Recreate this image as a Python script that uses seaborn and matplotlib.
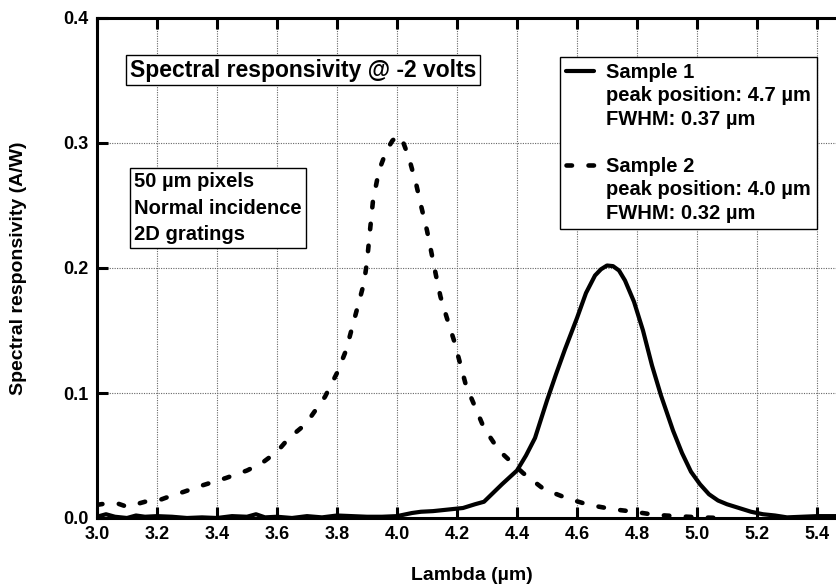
import numpy as np
import pandas as pd
import matplotlib
matplotlib.use("Agg")
import matplotlib.pyplot as plt
from matplotlib.ticker import MultipleLocator, FormatStrFormatter
from matplotlib.lines import Line2D
import seaborn as sns

# datos
lam_s1 = [3.00, 3.03, 3.06, 3.10, 3.13, 3.16, 3.20, 3.25, 3.30, 3.35, 3.40, 3.45,
          3.50, 3.53, 3.56, 3.60, 3.65, 3.70, 3.75, 3.80, 3.85, 3.90, 3.95, 4.00,
          4.05, 4.08, 4.12, 4.18, 4.22, 4.26, 4.29, 4.32, 4.35, 4.40, 4.43, 4.46,
          4.50, 4.53, 4.56, 4.60, 4.63, 4.66, 4.68, 4.70, 4.72, 4.74, 4.76, 4.79,
          4.82, 4.85, 4.88, 4.92, 4.95, 4.98, 5.01, 5.04, 5.07, 5.10, 5.14, 5.18,
          5.22, 5.26, 5.30, 5.35, 5.40, 5.47]
resp_s1 = [0.001, 0.003, 0.001, 0.000, 0.002, 0.001, 0.0015, 0.001, 0.000, 0.0005, 0.000, 0.0015,
           0.001, 0.003, 0.0005, 0.001, 0.000, 0.0015, 0.0005, 0.002, 0.0015, 0.001, 0.001, 0.0015,
           0.004, 0.005, 0.0055, 0.007, 0.008, 0.011, 0.013, 0.020, 0.027, 0.038, 0.050, 0.064,
           0.094, 0.115, 0.135, 0.160, 0.180, 0.194, 0.199, 0.202, 0.2015, 0.198, 0.190, 0.173,
           0.150, 0.122, 0.098, 0.070, 0.052, 0.037, 0.027, 0.019, 0.014, 0.011, 0.008, 0.005,
           0.003, 0.002, 0.0005, 0.001, 0.0015, 0.0015]

lam_s2 = [3.00, 3.04, 3.07, 3.10, 3.13, 3.16, 3.21, 3.25, 3.29, 3.35, 3.43, 3.50,
          3.55, 3.60, 3.64, 3.68, 3.71, 3.76, 3.80, 3.83, 3.85, 3.87, 3.89, 3.90,
          3.91, 3.92, 3.94, 3.965, 3.985, 4.005, 4.02, 4.04, 4.065, 4.08, 4.10, 4.115,
          4.13, 4.145, 4.165, 4.19, 4.21, 4.23, 4.26, 4.29, 4.34, 4.42, 4.49, 4.57,
          4.64, 4.72, 4.79, 4.86, 4.93, 5.01, 5.08, 5.10]
resp_s2 = [0.0105, 0.012, 0.0115, 0.009, 0.011, 0.013, 0.0145, 0.018, 0.021, 0.026, 0.032, 0.038,
           0.044, 0.053, 0.064, 0.072, 0.080, 0.097, 0.116, 0.134, 0.152, 0.170, 0.188, 0.205,
           0.230, 0.254, 0.278, 0.294, 0.302, 0.306, 0.301, 0.288, 0.266, 0.250, 0.230, 0.212,
           0.194, 0.177, 0.161, 0.142, 0.124, 0.106, 0.089, 0.072, 0.054, 0.036, 0.023, 0.0155,
           0.0105, 0.007, 0.005, 0.0025, 0.0015, 0.0005, 0.000, 0.000]

legend_labels = ["Sample 1", "peak position: 4.7 \u00b5m", "FWHM: 0.37 \u00b5m", "",
                 "Sample 2", "peak position: 4.0 \u00b5m", "FWHM: 0.32 \u00b5m"]
box_title = "Spectral responsivity @ -2 volts"
box_info = "50 \u00b5m pixels\nNormal incidence\n2D gratings"

sns.set_style("ticks")
plt.rcParams.update({
    'font.family': ['Liberation Sans', 'DejaVu Sans'],
    'font.weight': 'bold',
    'text.color': 'black',
    'axes.labelcolor': 'black',
    'axes.edgecolor': 'black',
    'xtick.color': 'black',
    'ytick.color': 'black',
    'xtick.direction': 'in',
    'ytick.direction': 'in',
    'xtick.top': True,
    'xtick.bottom': True,
    'ytick.left': True,
    'ytick.right': True,
    'xtick.major.size': 8,
    'ytick.major.size': 8,
    'xtick.major.width': 2.2,
    'ytick.major.width': 2.2,
    'axes.axisbelow': 'line',
})

fig = plt.figure(figsize=(8.37, 5.86), dpi=100)
W, H = 837, 586
ax = fig.add_axes([97 / W, (H - 518) / H, 750 / W, 500 / H])

df1 = pd.DataFrame({"lam": lam_s1, "resp": resp_s1})
df2 = pd.DataFrame({"lam": lam_s2, "resp": resp_s2})
sns.lineplot(data=df1, x="lam", y="resp", ax=ax, color="black", lw=3,
             solid_joinstyle="round")
sns.lineplot(data=df2, x="lam", y="resp", ax=ax, color="black", lw=3.3,
             linestyle=(0, (1.2, 3.6)), dash_capstyle="round")

ax.set_xlim(3.0, 5.5)
ax.set_ylim(0.0, 0.4)
ax.xaxis.set_major_locator(MultipleLocator(0.2))
ax.yaxis.set_major_locator(MultipleLocator(0.1))
ax.xaxis.set_major_formatter(FormatStrFormatter("%.1f"))
ax.yaxis.set_major_formatter(FormatStrFormatter("%.1f"))
ax.grid(True, color="#666666", lw=0.8, ls=(0, (1, 1.2)))
ax.tick_params(axis="both", which="major", direction="in", length=8, width=2.2,
               colors="black", labelsize=13, bottom=True, left=True, top=True, right=True)
ax.tick_params(axis="x", pad=6)
ax.tick_params(axis="y", pad=6)
for s in ax.spines.values():
    s.set_linewidth(2.2)
    s.set_color("black")

ax.set_xlabel("Lambda (\u00b5m)", fontsize=14, fontweight="bold", va="center")
ax.set_ylabel("Spectral responsivity (A/W)", fontsize=14, fontweight="bold", va="center")
ax.xaxis.set_label_coords(0.5, -0.114)
ax.yaxis.set_label_coords(-0.105, 0.5)

ax.text(0.2747, 0.896, box_title, transform=ax.transAxes, ha="center", va="center",
        fontsize=16.5, fontweight="bold",
        bbox=dict(boxstyle="square,pad=0.17", fc="white", ec="black", lw=1))
ax.text(0.05, 0.62, box_info, transform=ax.transAxes, ha="left", va="center",
        fontsize=14.5, fontweight="bold", linespacing=1.5,
        bbox=dict(boxstyle="square,pad=0.2", fc="white", ec="black", lw=1))

blank = Line2D([], [], color="none")
h1 = Line2D([], [], color="black", lw=3)
h2 = Line2D([], [], color="black", lw=3.3, ls=(0, (1.2, 3.6)), dash_capstyle="round")
handles = [h1, blank, blank, blank, h2, blank, blank]
leg = ax.legend(handles, legend_labels, loc="upper left",
                bbox_to_anchor=((560 - 97) / 750, (518 - 57) / 500),
                borderaxespad=0, borderpad=0.3, handlelength=1.4, handletextpad=0.6,
                labelspacing=0.22, fancybox=False, framealpha=1,
                prop={"size": 14.5, "weight": "bold"})
leg.get_frame().set_edgecolor("black")
leg.get_frame().set_linewidth(1)

plt.savefig("out.png", dpi=100)
